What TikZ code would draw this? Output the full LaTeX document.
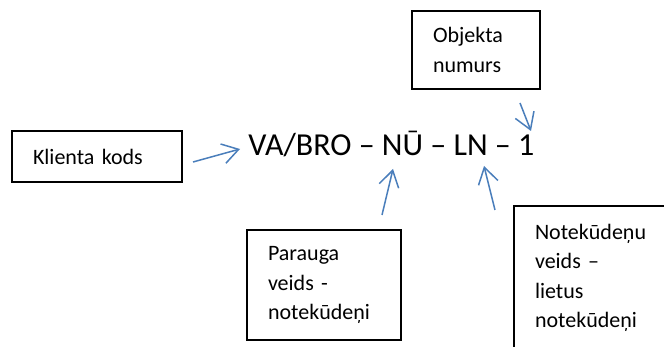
\documentclass[tikz,border=0pt]{standalone}
\usepackage{fontspec}
\setmainfont{Carlito}
\usetikzlibrary{arrows.meta, positioning}
\definecolor{arrowblue}{HTML}{4A7EBB}

\begin{document}
\begin{tikzpicture}[x=0.5pt, y=-0.5pt,
        box/.style={draw, line width=1pt, rectangle, align=left, anchor=north west,
            inner xsep=10.5pt, inner ysep=0pt, font=\fontsize{11}{14.7}\selectfont},
        pointer/.style={draw=arrowblue, line width=0.75pt,
            -{Straight Barb[length=8pt,width=10pt]}}]
    \clip (0,0) rectangle (664,347);

    \node[anchor=base west, inner sep=0pt, font=\fontsize{16}{19}\selectfont] (code) at (248,156) {VA/BRO – NŪ – LN – 1};

    \node[box, text width=64pt, minimum height=25.5pt] (klients) at (11,130) {Klienta kods};
    \node[box, text width=43pt, minimum height=39pt] (objekts) at (411,10) {Objekta\\numurs};
    \node[box, text width=56pt, minimum height=55pt] (paraugs) at (246,229) {Parauga\\veids -\\notekūdeņi};
    \node[box, text width=70pt, minimum height=72pt] (notekudeni) at (513,205) {Notekūdeņu\\veids –\\lietus\\notekūdeņi};

    \coordinate (k0) at (193,162);
    \coordinate (k1) at (240,149);
    \coordinate (o0) at (520,103);
    \coordinate (o1) at (531,131);
    \coordinate (p0) at (382,215);
    \coordinate (p1) at (393,169);
    \coordinate (n0) at (495,210);
    \coordinate (n1) at (484,166);
    \foreach \from/\to in {k0/k1, o0/o1, p0/p1, n0/n1}
        \draw[pointer] (\from) -- (\to);
\end{tikzpicture}
\end{document}
